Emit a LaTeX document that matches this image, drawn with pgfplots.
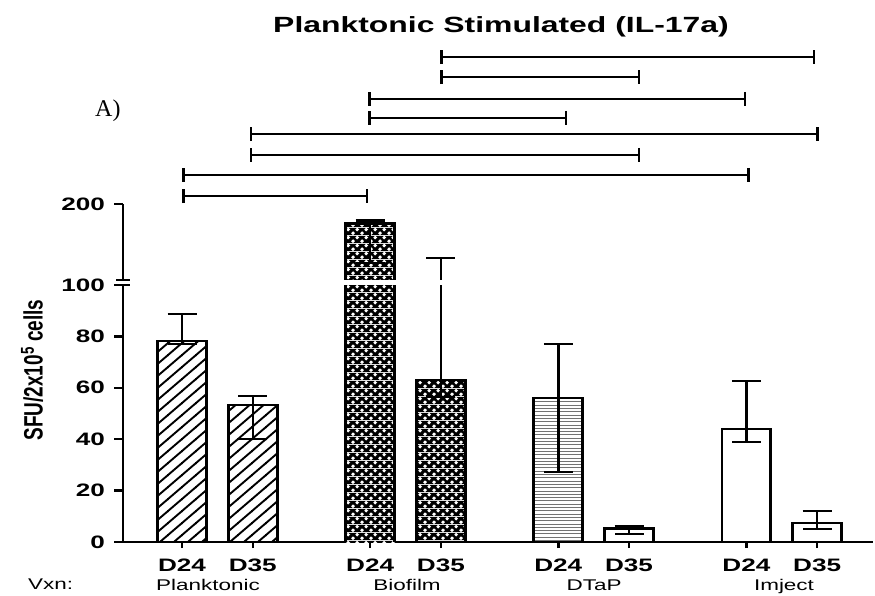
\documentclass[border=0pt]{standalone}
\usepackage{pgfplots}
\pgfplotsset{compat=1.18}
\usepackage{fontspec}
\usepackage{graphicx}
\setmainfont{Liberation Sans}[FakeStretch=1.45]
\newfontfamily\plainsans{Liberation Sans}
\newfontfamily\romanfont{Liberation Serif}
\usetikzlibrary{patterns,arrows.meta}

% diagonal hatching (Planktonic)
\pgfdeclarepatternformonly{hatchNE}{\pgfqpoint{-1pt}{-1pt}}{\pgfqpoint{15pt}{13pt}}{\pgfqpoint{14pt}{12pt}}{%
  \pgfsetlinewidth{1.9pt}%
  \pgfpathmoveto{\pgfqpoint{-1pt}{-0.857pt}}%
  \pgfpathlineto{\pgfqpoint{15pt}{12.857pt}}%
  \pgfusepath{stroke}}
% white dots on black (Biofilm)
\pgfdeclarepatterninherentlycolored{checkdots}{\pgfpointorigin}{\pgfqpoint{9pt}{8pt}}{\pgfqpoint{9pt}{8pt}}{%
  \pgfsetfillcolor{black}%
  \pgfpathrectangle{\pgfpointorigin}{\pgfqpoint{9pt}{8pt}}\pgfusepath{fill}%
  \pgfsetfillcolor{white}%
  \pgfpathcircle{\pgfqpoint{2.25pt}{2pt}}{2.1pt}%
  \pgfpathcircle{\pgfqpoint{6.75pt}{6pt}}{2.1pt}%
  \pgfusepath{fill}}
% fine horizontal lines (DTaP)
\pgfdeclarepatternformonly{hlinesfine}{\pgfqpoint{-1pt}{0pt}}{\pgfqpoint{11pt}{3.3pt}}{\pgfqpoint{10pt}{3.3pt}}{%
  \pgfsetlinewidth{1pt}%
  \pgfpathmoveto{\pgfqpoint{-1pt}{1.65pt}}%
  \pgfpathlineto{\pgfqpoint{11pt}{1.65pt}}%
  \pgfusepath{stroke}}

\pgfplotsset{
  base/.style={
    scale only axis, width=750pt, anchor=south west,
    xmin=-0.835, xmax=9.77,
    /pgf/number format/assume math mode=true,
    ticklabel style={font=\bfseries\fontsize{18}{18}\selectfont, inner sep=0pt},
    yticklabel style={xshift=-9pt},
  },
  lines/.style={
    axis line style={-, line width=2.5pt},
    tick align=outside, major tick length=9pt,
    tick style={line width=2.5pt, black},
  },
  barbase/.style={ybar, bar width=0.69, bar shift=0pt, draw=black, line width=2.8pt},
  errs/.style={error bars/.cd, y dir=both, y explicit,
    error bar style={line width=2.5pt, black},
    error mark options={rotate=90, line width=2.5pt, mark size=14.5pt, black}},
  bracket/.style={line width=2.5pt, black, {Bar[width=14pt,line width=2.5pt]}-{Bar[width=14pt,line width=2.5pt]}},
  outline/.style={line width=2.8pt, black},
}

\begin{document}
\begin{tikzpicture}[x=1pt,y=1pt]
\useasboundingbox (0,0) rectangle (875,595);

% lower segment, 0 to 100
\begin{axis}[base, at={(123pt,53pt)}, height=257pt,
  ymin=0, ymax=100, ytick={0,20,40,60,80,100},
  axis x line=bottom, axis y line=left, lines,
  xtick={0,1,2.66,3.66,5.32,6.32,7.98,8.98},
  xticklabels={D24,D35,D24,D35,D24,D35,D24,D35},
  xtick style={/pgfplots/major tick length=6pt},
  xticklabel style={yshift=-8pt},
]
\addplot[barbase, pattern=hatchNE, errs] coordinates {
  (0,78.2) += (0,10.5) -= (0,1.2)
  (1,53.3) += (0,3.5) -= (0,13.2)};
% Biofilm D24 runs past the break: fill here, sides drawn below
\addplot[barbase, draw=none, pattern=checkdots] coordinates {(2.66,174.5)};
\addplot[outline] coordinates {(2.315,0) (2.315,174.5)};
\addplot[outline] coordinates {(3.005,0) (3.005,174.5)};
\addplot[barbase, pattern=checkdots, errs] coordinates {
  (3.66,63.0) += (0,66) -= (0,6.6)};
\addplot[barbase, pattern=hlinesfine, pattern color=black!55, errs] coordinates {
  (5.32,56.0) += (0,21.0) -= (0,28.8)};
\addplot[barbase, fill=white, errs] coordinates {
  (6.32,5.4) += (0,0.9) -= (0,2.3)};
\addplot[barbase, fill=white, errs] coordinates {
  (7.98,44.0) += (0,18.6) -= (0,5.1)
  (8.98,7.4) += (0,4.6) -= (0,2.4)};
\end{axis}

% upper segment, 100 to 200
\begin{axis}[base, at={(123pt,315pt)}, height=76pt,
  ymin=100, ymax=200, ytick={200},
  axis x line=none, axis y line=left, lines,
]
\addplot[barbase, draw=none, pattern=checkdots] coordinates {(2.66,174.5)};
\addplot[outline] coordinates {(2.315,0) (2.315,174.5) (3.005,174.5) (3.005,0)};
\addplot[draw=none, errs] coordinates {(2.66,174.5) += (0,3.5) -= (0,52)};
\addplot[draw=none, errs] coordinates {(3.66,63.0) += (0,66) -= (0,6.6)};
\end{axis}

% comparison brackets above the bars
\begin{axis}[base, at={(123pt,315pt)}, height=76pt,
  ymin=100, ymax=200, hide axis, clip=false]
\addplot[bracket] coordinates {(3.65,393.4) (8.95,393.4)};
\addplot[bracket] coordinates {(3.65,367.1) (6.48,367.1)};
\addplot[bracket] coordinates {(2.63,338.2) (7.98,338.2)};
\addplot[bracket] coordinates {(2.63,313.2) (5.45,313.2)};
\addplot[bracket] coordinates {(0.96,292.1) (9.00,292.1)};
\addplot[bracket] coordinates {(0.96,264.5) (6.48,264.5)};
\addplot[bracket] coordinates {(0,238.2) (8.03,238.2)};
\addplot[bracket] coordinates {(0,210.5) (2.63,210.5)};
\end{axis}

% axis break marks
\draw[line width=2.2pt] (116,310) -- (130,310);
\draw[line width=2.2pt] (116,315) -- (130,315);

% titles and labels
\node[anchor=base, font=\bfseries\fontsize{22}{22}\selectfont] at (501,562) {Planktonic Stimulated (IL-17a)};
\node[anchor=base west, font=\romanfont\fontsize{24}{24}\selectfont, inner sep=0pt] at (95,478) {A)};
\node[rotate=90, font=\plainsans\bfseries\fontsize{19}{19}\selectfont, inner sep=0pt] at (32,225)
  {\scalebox{1}[1.4]{SFU/2x10\textsuperscript{5} cells}};
\node[anchor=base west, font=\fontsize{15.5}{15.5}\selectfont, inner sep=0pt] at (28,6) {Vxn:};
\begin{scope}[every node/.style={anchor=base, font=\fontsize{15.5}{15.5}\selectfont, inner sep=0pt}]
\node at (208,5) {Planktonic};
\node at (407,5) {Biofilm};
\node at (594,5) {DTaP};
\node at (784,5) {Imject};
\end{scope}
\end{tikzpicture}
\end{document}
